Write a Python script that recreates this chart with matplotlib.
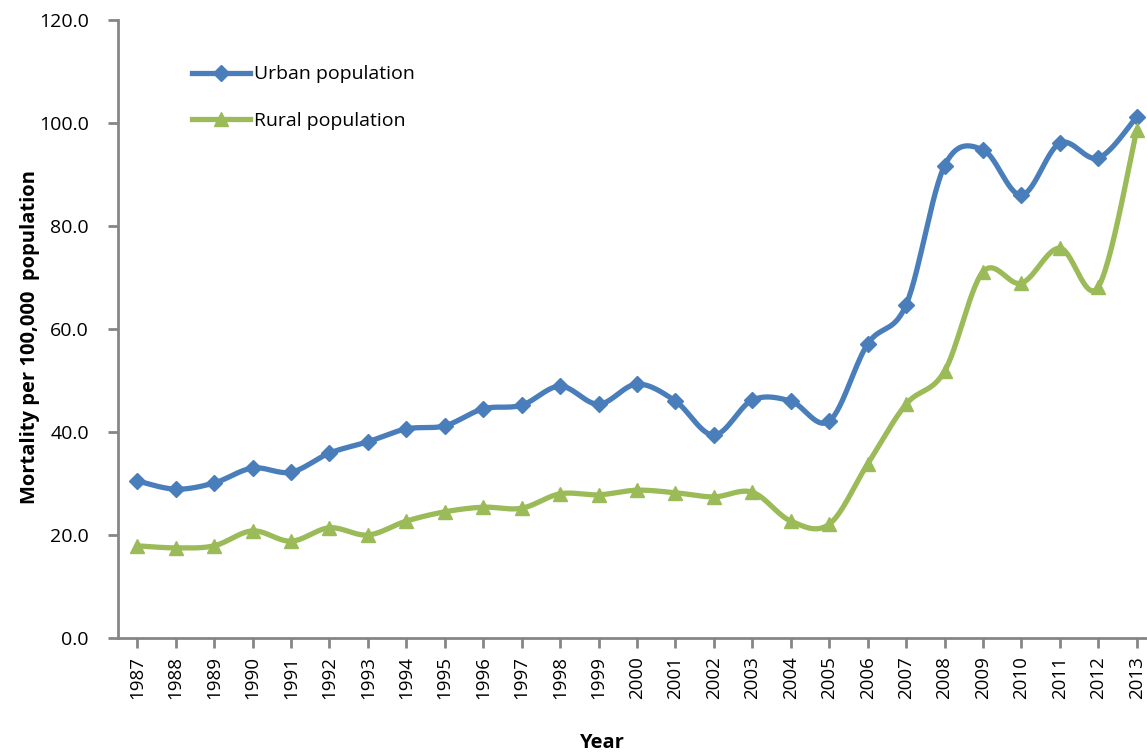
import numpy as np
import matplotlib
matplotlib.use("Agg")
import matplotlib.pyplot as plt
from matplotlib.lines import Line2D

years = list(range(1987, 2014))
urban = [30.5, 28.9, 30.1, 33.0, 32.2, 35.9, 38.1, 40.6, 41.2, 44.5, 45.2, 48.9, 45.4,
         49.3, 46.0, 39.4, 46.2, 46.0, 42.1, 57.1, 64.7, 91.7, 94.8, 86.0, 96.1, 93.2, 101.2]
rural = [17.9, 17.5, 17.9, 20.8, 18.8, 21.4, 20.0, 22.7, 24.5, 25.4, 25.2, 28.0, 27.8,
         28.7, 28.2, 27.4, 28.3, 22.7, 22.1, 33.8, 45.4, 51.8, 71.1, 68.9, 75.7, 68.2, 98.6]
yticks = [0, 20, 40, 60, 80, 100, 120]

blue = "#4A7EBB"
green = "#9BBB59"
grey = "#868686"

plt.rcParams['font.family'] = ['Open Sans', 'DejaVu Sans']


def smooth(x, y, n=30):
    # excel-like smoothed line: bezier with catmull-rom control points
    x = np.asarray(x, float)
    y = np.asarray(y, float)
    px = np.concatenate([[x[0]], x, [x[-1]]])
    py = np.concatenate([[y[0]], y, [y[-1]]])
    xs, ys = [], []
    t = np.linspace(0, 1, n)
    for i in range(1, len(px) - 2):
        p0 = np.array([px[i], py[i]])
        p3 = np.array([px[i + 1], py[i + 1]])
        c1 = p0 + (np.array([px[i + 1], py[i + 1]]) - np.array([px[i - 1], py[i - 1]])) / 6
        c2 = p3 - (np.array([px[i + 2], py[i + 2]]) - np.array([px[i], py[i]])) / 6
        b = ((1 - t) ** 3)[:, None] * p0 + (3 * (1 - t) ** 2 * t)[:, None] * c1 \
            + (3 * (1 - t) * t ** 2)[:, None] * c2 + (t ** 3)[:, None] * p3
        xs.extend(b[:, 0])
        ys.extend(b[:, 1])
    return xs, ys


fig = plt.figure(figsize=(11.47, 7.52), dpi=100)
ax = fig.add_axes([118 / 1147, 1 - 638 / 752, (1156 - 118) / 1147, (638 - 20) / 752])

sx, sy = smooth(years, urban)
ax.plot(sx, sy, color=blue, lw=3.8, solid_capstyle='round', zorder=3)
ax.plot(years, urban, ls='none', marker='D', ms=8, color=blue, zorder=4)
sx, sy = smooth(years, rural)
ax.plot(sx, sy, color=green, lw=3.8, solid_capstyle='round', zorder=3)
ax.plot(years, rural, ls='none', marker='^', ms=10, color=green, zorder=4)

ax.set_xlim(1986.5, 2013.5)
ax.set_ylim(0, 120)
ax.set_yticks(yticks)
ax.set_yticklabels([f"{v:.1f}" for v in yticks], fontsize=14)
ax.set_xticks(years)
ax.set_xticklabels([str(y) for y in years], rotation=90, fontsize=13.5)
ax.tick_params(axis='both', color=grey, width=2, length=7, direction='out')
ax.tick_params(axis='x', pad=6)
ax.tick_params(axis='y', pad=14)

for s in ['top', 'right']:
    ax.spines[s].set_visible(False)
for s in ['left', 'bottom']:
    ax.spines[s].set_color(grey)
    ax.spines[s].set_linewidth(2)

ax.set_ylabel("Mortality per 100,000  population", fontsize=14.5, fontweight='bold', va='center')
ax.yaxis.set_label_coords(-0.085, 0.487)
fig.text(601 / 1147, 1 - 743 / 752, "Year", fontsize=14.5, fontweight='bold', ha='center', va='center')

handles = [Line2D([], [], color=blue, lw=3.8, marker='D', ms=8),
           Line2D([], [], color=green, lw=3.8, marker='^', ms=10)]
ax.legend(handles, ["Urban population", "Rural population"], loc='upper left',
          bbox_to_anchor=(0.054, 0.955), frameon=False, fontsize=14,
          handlelength=3.0, handletextpad=0.2, labelspacing=1.45)

fig.savefig("out.png", dpi=100)
